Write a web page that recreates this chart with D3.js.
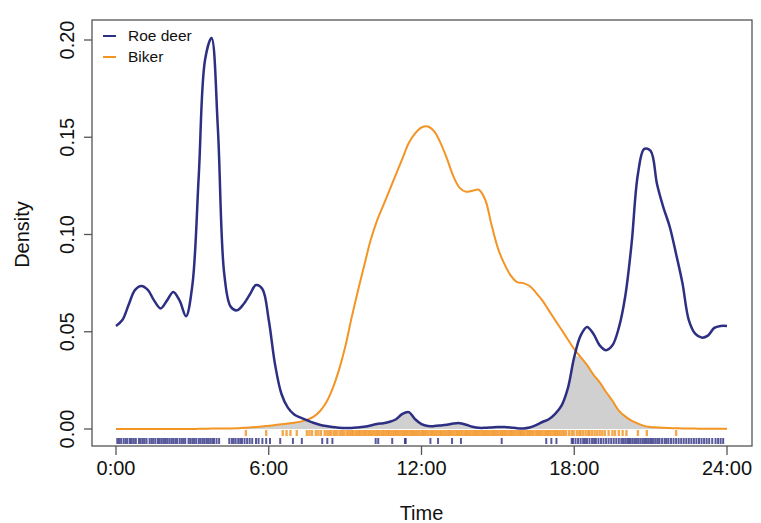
<!DOCTYPE html>
<html>
<head>
<meta charset="utf-8">
<script src="https://cdn.jsdelivr.net/npm/d3@7"></script>
<style>
  body { margin: 0; background: #fff; }
  svg text { font-family: "Liberation Sans", Arial, sans-serif; fill: #111; }
</style>
</head>
<body>
<div id="chart"></div>
<script>
// time grid (hours), shared by both density curves
var hours = d3.range(0, 24.01, 0.25);

var roeDeer = [
  0.053, 0.056, 0.064, 0.0715, 0.0735, 0.0715, 0.066, 0.062,
  0.066, 0.0705, 0.066, 0.058, 0.074, 0.13, 0.19, 0.201,
  0.155, 0.08, 0.063, 0.061, 0.064, 0.069, 0.074, 0.072,
  0.056, 0.033, 0.018, 0.011, 0.0075, 0.0058, 0.0045, 0.0032,
  0.0022, 0.0015, 0.001, 0.0007, 0.0005, 0.0005, 0.0008, 0.0012,
  0.0018, 0.0026, 0.003, 0.0037, 0.005, 0.0078, 0.0087, 0.005,
  0.0025, 0.0015, 0.0015, 0.0018, 0.0022, 0.0028, 0.003, 0.0022,
  0.0012, 0.0006, 0.0006, 0.0008, 0.001, 0.001, 0.0008, 0.0004,
  0.0003, 0.0008, 0.002, 0.0036, 0.005, 0.0078, 0.012, 0.021,
  0.037, 0.048, 0.0525, 0.049, 0.043, 0.0405, 0.043, 0.052,
  0.068, 0.095, 0.131, 0.144, 0.143, 0.126, 0.114, 0.104,
  0.09, 0.075, 0.056, 0.049, 0.047, 0.048, 0.052, 0.053, 0.053
];

var biker = [
  0, 0, 0, 0, 0, 0, 0, 0,
  0, 0, 0, 0, 0, 0.0001, 0.0001, 0.0002,
  0.0002, 0.0003, 0.0003, 0.0004, 0.0006, 0.0008, 0.001, 0.0013,
  0.0017, 0.002, 0.0024, 0.0028, 0.0032, 0.0038, 0.0047, 0.0062,
  0.009, 0.0135, 0.0205, 0.03, 0.042, 0.057, 0.071, 0.084,
  0.097, 0.107, 0.115, 0.123, 0.131, 0.139, 0.147, 0.152,
  0.155, 0.1555, 0.153, 0.147, 0.139, 0.13, 0.124, 0.122,
  0.1225, 0.123, 0.118, 0.105, 0.093, 0.085, 0.079, 0.0755,
  0.075, 0.0735, 0.07, 0.066, 0.061, 0.056, 0.051, 0.046,
  0.041, 0.037, 0.033, 0.028, 0.024, 0.019, 0.0145, 0.0095,
  0.0065, 0.0043, 0.0028, 0.0016, 0.001, 0.0008, 0.0006, 0.0005,
  0.0004, 0.0003, 0.0002, 0.0002, 0.0001, 0.0001, 0.0001, 0.0001, 0.0001
];

// observation times (hours) for the rugs
var roeRug = [
  0.05, 0.12, 0.2, 0.3, 0.38, 0.45, 0.55, 0.62, 0.7, 0.78, 0.9, 0.97, 1.05, 1.12,
  1.2, 1.32, 1.4, 1.47, 1.55, 1.65, 1.72, 1.8, 1.88, 1.95, 2.02, 2.1, 2.18, 2.25,
  2.33, 2.4, 2.5, 2.58, 2.65, 2.72, 2.85, 2.92, 3.0, 3.07, 3.15, 3.25, 3.32, 3.4,
  3.47, 3.55, 3.62, 3.7, 3.78, 3.85, 3.95, 4.05,
  4.45, 4.55, 4.62, 4.7, 4.8, 4.88, 4.95, 5.05, 5.15, 5.25, 5.35, 5.5, 5.6, 5.75,
  5.9, 6.05, 6.45, 6.95, 7.3, 8.1, 8.3, 8.5, 10.2, 10.3, 10.85, 11.35, 11.38,
  12.35, 12.65, 13.2, 13.55, 15.15, 16.9, 17.1, 17.3,
  17.9, 17.95, 18.05, 18.15, 18.25, 18.35, 18.42, 18.5, 18.6, 18.7, 18.78, 18.85,
  18.95, 19.05, 19.15, 19.25, 19.35, 19.45, 19.55, 19.65, 19.75, 19.85, 19.92, 20.0,
  20.08, 20.15, 20.22, 20.3, 20.38, 20.45, 20.52, 20.6, 20.68, 20.75, 20.82, 20.9,
  20.98, 21.05, 21.12, 21.2, 21.28, 21.35, 21.45, 21.55, 21.62, 21.7, 21.8, 21.9,
  22.0, 22.1, 22.2, 22.3, 22.4, 22.5, 22.6, 22.7, 22.8, 22.9, 23.0, 23.1, 23.2,
  23.3, 23.42, 23.55, 23.65, 23.75, 23.85
];

var bikerRug = [
  5.1, 5.9, 6.55, 6.7, 6.85, 7.1, 7.5, 7.6, 7.7, 7.85, 7.95, 8.05, 8.2, 8.3, 8.38,
  8.45, 8.55, 8.62, 8.7, 8.8, 8.88, 8.95, 9.05, 9.12,
  9.2, 9.27, 9.33, 9.41, 9.48, 9.55, 9.61, 9.69, 9.76, 9.82, 9.9, 9.97, 10.03, 10.1,
  10.18, 10.25, 10.31, 10.38, 10.46, 10.52, 10.6, 10.67, 10.73, 10.8, 10.88, 10.95,
  11.01, 11.08, 11.15, 11.23, 11.3, 11.36, 11.43, 11.5, 11.58, 11.64, 11.71, 11.78,
  11.85, 11.92, 12.0, 12.06, 12.13, 12.2, 12.27, 12.35, 12.41, 12.48, 12.55, 12.62,
  12.7, 12.76, 12.83, 12.9, 12.97, 13.05, 13.11, 13.18, 13.25, 13.33, 13.4, 13.46,
  13.53, 13.6, 13.68, 13.75, 13.81, 13.88, 13.95, 14.03, 14.1, 14.16, 14.23, 14.3,
  14.38, 14.45, 14.51, 14.58, 14.65, 14.73, 14.8, 14.86, 14.93, 15.0, 15.08, 15.15,
  15.21, 15.28, 15.35, 15.43, 15.5, 15.56, 15.63, 15.7, 15.78, 15.85, 15.91, 15.98,
  16.05, 16.13, 16.2, 16.26, 16.33, 16.4, 16.48, 16.55, 16.61, 16.68, 16.75, 16.83,
  16.9, 16.96, 17.03, 17.1, 17.18, 17.25, 17.31, 17.38, 17.45, 17.53, 17.6, 17.68,
  17.8, 17.9, 17.98, 18.1, 18.2, 18.25, 18.35, 18.45, 18.55, 18.6, 18.7, 18.8, 18.9,
  19.0, 19.1, 19.2, 19.35, 19.5, 19.6, 19.75, 19.9, 20.05, 20.5, 20.85, 22.0
];

var xTicks = [0, 6, 12, 18, 24];
var xTickLabels = ["0:00", "6:00", "12:00", "18:00", "24:00"];
var yTicks = [0, 0.05, 0.10, 0.15, 0.20];
var seriesNames = ["Roe deer", "Biker"];

var W = 761, H = 523;
var box = { left: 92, top: 20, right: 752, bottom: 446 };
var navy = "#2d2f82", orange = "#f39423";

var svg = d3.select("#chart").append("svg")
    .attr("width", W)
    .attr("height", H);

var x = d3.scaleLinear().domain([0, 24]).range([116, 727]);
var y = d3.scaleLinear().domain([0, 0.20]).range([429, 40]);

var pts = hours.map(function(h, i) {
    return { h: h, r: roeDeer[i], b: biker[i] };
});

// overlap (shaded)
svg.append("path")
    .datum(pts)
    .attr("fill", "#d0d0d0")
    .attr("d", d3.area()
        .x(function(d) { return x(d.h); })
        .y0(y(0))
        .y1(function(d) { return y(Math.min(d.r, d.b)); })
        .curve(d3.curveCatmullRom));

// rugs
svg.append("g").selectAll("line").data(bikerRug).enter().append("line")
    .attr("x1", function(d) { return x(d); })
    .attr("x2", function(d) { return x(d); })
    .attr("y1", 430).attr("y2", 436)
    .attr("stroke", orange)
    .attr("stroke-opacity", 0.8)
    .attr("stroke-width", 2.4);

svg.append("g").selectAll("line").data(roeRug).enter().append("line")
    .attr("x1", function(d) { return x(d); })
    .attr("x2", function(d) { return x(d); })
    .attr("y1", 438).attr("y2", 444)
    .attr("stroke", navy)
    .attr("stroke-opacity", 0.8)
    .attr("stroke-width", 2);

// density curves
var line = function(key) {
    return d3.line()
        .x(function(d) { return x(d.h); })
        .y(function(d) { return y(d[key]); })
        .curve(d3.curveCatmullRom);
};

svg.append("path").datum(pts)
    .attr("fill", "none")
    .attr("stroke", orange)
    .attr("stroke-width", 2)
    .attr("d", line("b"));

svg.append("path").datum(pts)
    .attr("fill", "none")
    .attr("stroke", navy)
    .attr("stroke-width", 2.5)
    .attr("d", line("r"));

// plot box
svg.append("rect")
    .attr("x", box.left).attr("y", box.top)
    .attr("width", box.right - box.left)
    .attr("height", box.bottom - box.top)
    .attr("fill", "none")
    .attr("stroke", "#555")
    .attr("stroke-width", 1.3);

// x axis
var xAxis = svg.append("g");
xAxis.selectAll("line").data(xTicks).enter().append("line")
    .attr("x1", function(d) { return x(d); })
    .attr("x2", function(d) { return x(d); })
    .attr("y1", box.bottom).attr("y2", box.bottom + 9)
    .attr("stroke", "#555").attr("stroke-width", 1.3);
xAxis.selectAll("text").data(xTicks).enter().append("text")
    .attr("x", function(d) { return x(d); })
    .attr("y", 475)
    .attr("text-anchor", "middle")
    .attr("font-size", 20)
    .text(function(d, i) { return xTickLabels[i]; });

svg.append("text")
    .attr("x", x(12)).attr("y", 520)
    .attr("text-anchor", "middle")
    .attr("font-size", 20)
    .text("Time");

// y axis
var yAxis = svg.append("g");
yAxis.selectAll("line").data(yTicks).enter().append("line")
    .attr("x1", box.left - 8).attr("x2", box.left)
    .attr("y1", function(d) { return y(d); })
    .attr("y2", function(d) { return y(d); })
    .attr("stroke", "#555").attr("stroke-width", 1.3);
yAxis.selectAll("text").data(yTicks).enter().append("text")
    .attr("transform", function(d) { return "translate(74," + y(d) + ") rotate(-90)"; })
    .attr("text-anchor", "middle")
    .attr("font-size", 20)
    .text(function(d) { return d3.format(".2f")(d); });

svg.append("text")
    .attr("transform", "translate(29," + y(0.1) + ") rotate(-90)")
    .attr("text-anchor", "middle")
    .attr("font-size", 20)
    .text("Density");

// legend
var legend = svg.append("g");
[navy, orange].forEach(function(c, i) {
    legend.append("line")
        .attr("x1", 103).attr("x2", 116)
        .attr("y1", 36 + i * 21).attr("y2", 36 + i * 21)
        .attr("stroke", c).attr("stroke-width", 2);
    legend.append("text")
        .attr("x", 128).attr("y", 41 + i * 21)
        .attr("font-size", 15.5)
        .text(seriesNames[i]);
});
</script>
</body>
</html>
